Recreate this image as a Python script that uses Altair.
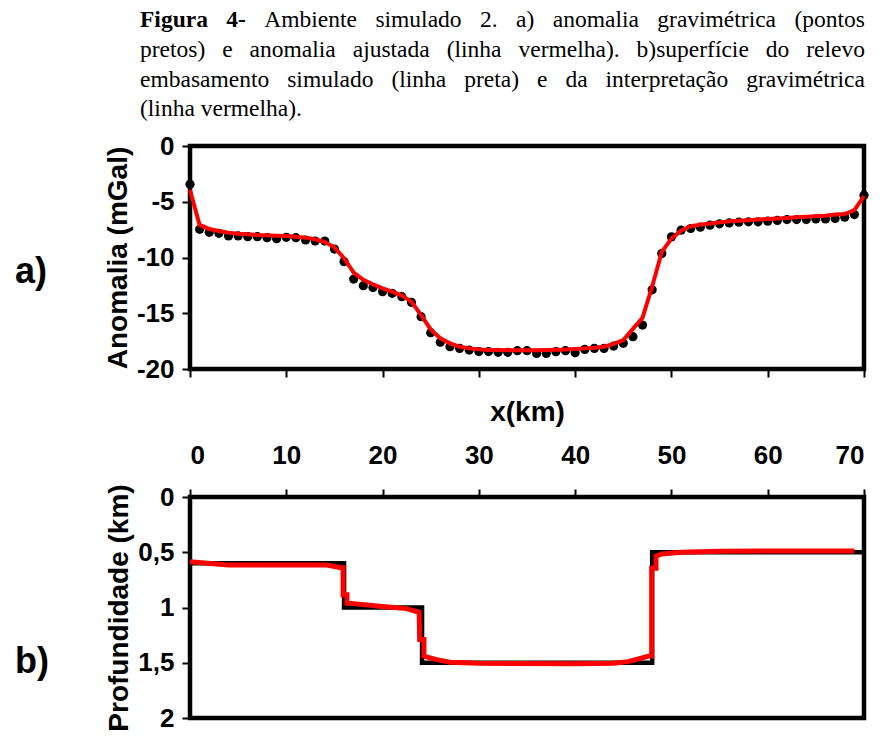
import altair as alt
import pandas as pd

# ---------------- data ----------------
x_km = list(range(0, 71))

anomalia_obs = [
    -3.44, -7.47, -7.74, -7.83, -8.07, -8.07, -8.13, -8.13, -8.22, -8.31,
    -8.19, -8.22, -8.43, -8.52, -8.52, -9.24, -10.37, -11.93, -12.53, -12.70,
    -13.06, -13.21, -13.51, -14.02, -15.31, -16.74, -17.60, -18.00, -18.15, -18.30,
    -18.44, -18.44, -18.50, -18.50, -18.36, -18.36, -18.60, -18.60, -18.45, -18.36,
    -18.54, -18.24, -18.15, -18.15, -17.94, -17.70, -17.10, -16.06, -12.90, -9.64,
    -8.15, -7.55, -7.40, -7.28, -7.10, -6.98, -6.90, -6.83, -6.80, -6.80,
    -6.74, -6.68, -6.60, -6.60, -6.60, -6.54, -6.54, -6.50, -6.39, -6.15,
    -4.41,
]

anomalia_fit = [
    -3.95, -7.08, -7.44, -7.62, -7.77, -7.86, -7.92, -7.98, -8.01, -8.04,
    -8.07, -8.13, -8.22, -8.37, -8.61, -9.09, -10.07, -11.35, -12.00, -12.40,
    -12.77, -13.06, -13.42, -13.96, -15.16, -16.45, -17.25, -17.70, -18.00, -18.15,
    -18.24, -18.30, -18.30, -18.32, -18.32, -18.32, -18.32, -18.30, -18.28, -18.25,
    -18.20, -18.15, -18.10, -18.00, -17.75, -17.40, -16.40, -15.40, -12.60, -9.50,
    -8.30, -7.60, -7.20, -7.05, -6.95, -6.85, -6.75, -6.70, -6.65, -6.60,
    -6.55, -6.50, -6.45, -6.40, -6.35, -6.30, -6.25, -6.15, -6.10, -5.75,
    -4.50,
]

# simulated basement (step profile)
base_x = [0, 16, 24.1, 48, 70]
base_depth = [0.6, 1.0, 1.5, 0.5, 0.5]

# gravimetric interpretation (red polyline)
interp_x = [0, 4, 14.2, 15.7, 15.9, 15.9, 16.3, 16.3, 17, 20, 22.5, 23.8, 23.85,
            24.3, 24.3, 25.5, 27, 30, 40, 44, 45.5, 47.7, 47.95, 47.95, 48.4,
            48.4, 49, 51, 55, 69]
interp_depth = [0.585, 0.615, 0.615, 0.64, 0.64, 0.885, 0.885, 0.96, 0.965, 0.99,
                1.01, 1.045, 1.29, 1.29, 1.44, 1.47, 1.495, 1.505, 1.51, 1.505,
                1.49, 1.44, 1.44, 0.645, 0.645, 0.535, 0.515, 0.5, 0.49, 0.488]

x_ticks = [0, 10, 20, 30, 40, 50, 60, 70]
anom_ticks = [0, -5, -10, -15, -20]
depth_ticks = [0, 0.5, 1, 1.5, 2]

caption_lines = [
    [("Figura", True), ("4-", True), ("Ambiente", False), ("simulado", False),
     ("2.", False), ("a)", False), ("anomalia", False), ("gravimétrica", False),
     ("(pontos", False)],
    [("pretos)", False), ("e", False), ("anomalia", False), ("ajustada", False),
     ("(linha", False), ("vermelha).", False), ("b)superfície", False),
     ("do", False), ("relevo", False)],
    [("embasamento", False), ("simulado", False), ("(linha", False),
     ("preta)", False), ("e", False), ("da", False), ("interpretação", False),
     ("gravimétrica", False)],
    [("(linha", False), ("vermelha).", False)],
]

# ---------------- caption layout (justified text) ----------------
CAP_FS = 23.5
TIMES = {" ": 250, "(": 333, ")": 333, "-": 333, ".": 250, ",": 250,
         "A": 722, "F": 556,
         "a": 444, "b": 500, "c": 444, "d": 500, "e": 444, "f": 333, "g": 500,
         "h": 500, "i": 278, "j": 278, "k": 500, "l": 278, "m": 778, "n": 500,
         "o": 500, "p": 500, "q": 500, "r": 333, "s": 389, "t": 278, "u": 500,
         "v": 500, "w": 722, "x": 500, "y": 500, "z": 444,
         "é": 444, "í": 278, "ã": 444, "ç": 444}
TIMES_B = {"F": 611, "i": 278, "g": 500, "u": 556, "r": 444, "a": 500,
           "4": 500, "-": 333, " ": 250}


def wwidth(word, bold):
    tab = TIMES_B if bold else TIMES
    return sum(tab.get(c, 500) for c in word) / 1000.0 * CAP_FS


cap_left, cap_right = -50, 675
cap_base = [27, 57, 87, 116]
rows = []
for li, words in enumerate(caption_lines):
    widths = [wwidth(w, b) for w, b in words]
    if li < 3:
        gap = (cap_right - cap_left - sum(widths)) / (len(words) - 1)
    else:
        gap = TIMES[" "] / 1000.0 * CAP_FS
    xpos = cap_left
    for (w, b), wd in zip(words, widths):
        rows.append({"w": w, "px": xpos, "py": cap_base[li], "bold": b})
        xpos += wd + gap
cap_df = pd.DataFrame(rows)

cap_reg = alt.Chart(cap_df[~cap_df.bold]).mark_text(
    align="left", baseline="alphabetic", font="Liberation Serif",
    fontSize=CAP_FS, color="black"
).encode(x=alt.X("px:Q", scale=None), y=alt.Y("py:Q", scale=None), text="w:N")
cap_bold = alt.Chart(cap_df[cap_df.bold]).mark_text(
    align="left", baseline="alphabetic", font="Liberation Serif",
    fontSize=CAP_FS, fontWeight="bold", color="black"
).encode(x=alt.X("px:Q", scale=None), y=alt.Y("py:Q", scale=None), text="w:N")
caption = alt.layer(cap_reg, cap_bold).properties(width=674, height=18)

# ---------------- panel a ----------------
df_a = pd.DataFrame({"x": x_km, "obs": anomalia_obs, "fit": anomalia_fit})
xa = alt.X("x:Q", scale=alt.Scale(domain=[0, 70], nice=False),
           axis=alt.Axis(values=x_ticks, labels=False, title=None, orient="bottom",
                         domain=False, grid=False, tickSize=8))
ya_scale = alt.Scale(domain=[-20, 0], nice=False)
ya_axis = alt.Axis(values=anom_ticks, title="Anomalia (mGal)", domain=False, grid=False,
                   labelExpr="datum.value + ''", tickSize=8)

pts = alt.Chart(df_a).mark_circle(size=85, color="black", opacity=1).encode(
    x=xa, y=alt.Y("obs:Q", scale=ya_scale, axis=ya_axis))
fit = alt.Chart(df_a).mark_line(color="#ff0000", strokeWidth=4).encode(
    x=xa, y=alt.Y("fit:Q", scale=ya_scale, axis=ya_axis))
lab_a = alt.Chart(pd.DataFrame({"t": ["a)"]})).mark_text(
    align="left", baseline="middle", fontSize=36, fontWeight="bold",
    font="Liberation Sans", color="black"
).encode(text="t:N", x=alt.value(-175), y=alt.value(126))
panel_a = alt.layer(pts, fit, lab_a).properties(
    width=674, height=223, view=alt.ViewBackground(stroke="black", strokeWidth=4.5))

# ---------------- panel b ----------------
df_base = pd.DataFrame({"x": base_x, "d": base_depth})
df_int = pd.DataFrame({"x": interp_x, "d": interp_depth, "i": list(range(len(interp_x)))})
xb = alt.X("x:Q", scale=alt.Scale(domain=[0, 70], nice=False),
           axis=alt.Axis(values=x_ticks, title="x(km)", orient="top", domain=False,
                         grid=False, tickSize=8, labelPadding=21, titlePadding=16))
yb_scale = alt.Scale(domain=[0, 2], reverse=True, nice=False)
yb_axis = alt.Axis(values=depth_ticks, title="Profundidade (km)", domain=False, grid=False,
                   labelExpr="replace(datum.value + '', '.', ',')", tickSize=8)
black = alt.Chart(df_base).mark_line(color="black", strokeWidth=4.5,
                                     interpolate="step-after").encode(
    x=xb, y=alt.Y("d:Q", scale=yb_scale, axis=yb_axis))
red = alt.Chart(df_int).mark_line(color="#ff0000", strokeWidth=5).encode(
    x=xb, y=alt.Y("d:Q", scale=yb_scale, axis=yb_axis), order="i:Q")
lab_b = alt.Chart(pd.DataFrame({"t": ["b)"]})).mark_text(
    align="left", baseline="middle", fontSize=36, fontWeight="bold",
    font="Liberation Sans", color="black"
).encode(text="t:N", x=alt.value(-175), y=alt.value(165))
panel_b = alt.layer(black, red, lab_b).properties(
    width=674, height=221, view=alt.ViewBackground(stroke="black", strokeWidth=4.5))

chart = alt.vconcat(caption, panel_a, panel_b, spacing=128, bounds="flush").properties(
    padding={"left": 12, "top": 0, "right": 0, "bottom": 0}
).configure_view(strokeWidth=0).configure_axis(
    labelFont="Liberation Sans", labelFontWeight="bold", labelFontSize=26,
    labelColor="black", titleFont="Liberation Sans", titleFontWeight="bold",
    titleFontSize=28, titleColor="black", tickColor="black", tickWidth=2,
    labelPadding=8, titlePadding=4
)

chart.save("out.html", embed_options={"renderer": "svg", "actions": False})
